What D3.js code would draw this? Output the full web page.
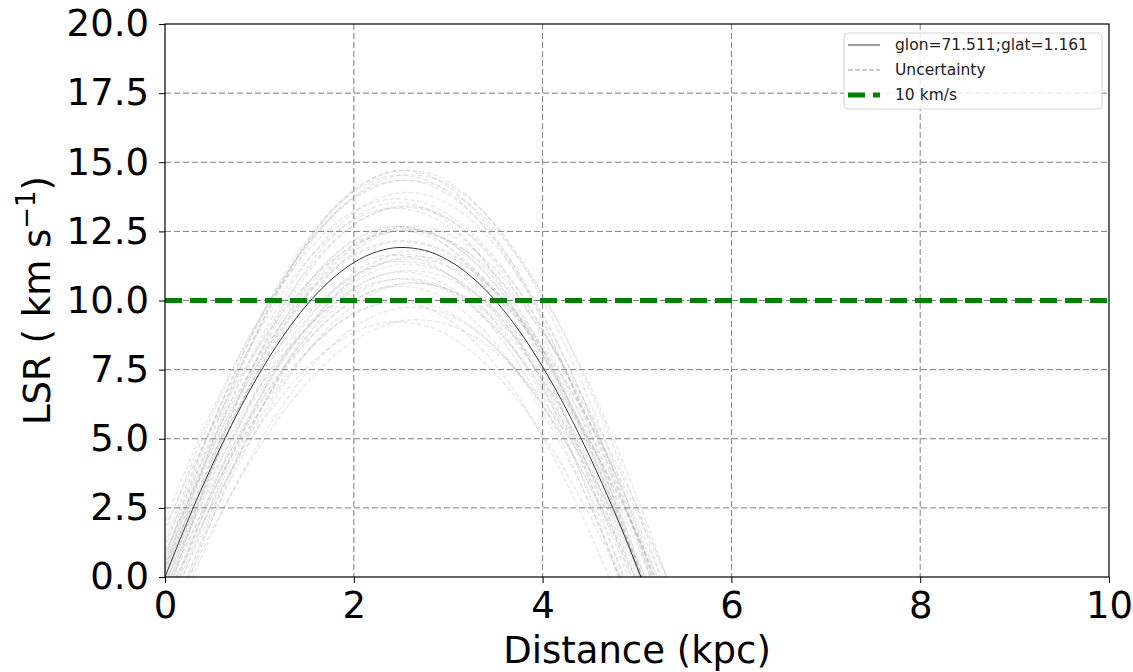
<!DOCTYPE html>
<html><head><meta charset="utf-8">
<script src="https://cdn.jsdelivr.net/npm/d3@7"></script>
<style>
html,body{margin:0;padding:0;background:#fff;}
text{font-family:"DejaVu Sans",sans-serif;}
</style></head>
<body><svg id="c" width="1133" height="672"></svg>
<script>
// ---- data ----
const xTicks = [0, 2, 4, 6, 8, 10];
const yTicks = [0, 2.5, 5, 7.5, 10, 12.5, 15, 17.5, 20];
const yTickLabels = ["0.0","2.5","5.0","7.5","10.0","12.5","15.0","17.5","20.0"];
const distance = [0,0.25,0.5,0.75,1,1.25,1.5,1.75,2,2.25,2.5,2.75,3,3.25,3.5,3.75,4,4.25,4.5,4.75,5,5.042,5.25,5.5];
const vlsr     = [0,2.106,4.045,5.800,7.359,8.707,9.831,10.722,11.371,11.770,11.919,11.814,11.456,10.849,9.998,8.912,7.602,6.078,4.354,2.445,0.366,0,-1.866,-4.237];
// uncertainty draws: velocity scale, velocity shift (km/s), distance scale
const uncVScale = [1.00,1.05,0.95,1.10,1.18,0.88,1.22,0.92,1.08,1.02,1.15,0.85,1.25,0.97,1.12,0.93,1.06,1.20,0.90,1.14,1.03,0.99,1.17,0.94,1.09,1.01,0.87,1.13,1.21,0.96,1.04,1.11,0.91,1.16,1.07,0.98,1.00,1.16,0.89,1.05];
const uncVShift = [-0.5,-1.2,0.8,-0.6,-1.5,-0.5,-1.0,1.2,0.5,-2.4,0.2,-0.9,-0.2,-1.6,1.0,0.0,-2.0,-2.5,1.8,-0.9,0.4,-1.0,0.6,-1.9,-0.3,1.3,0.4,-1.8,0.3,0.2,-0.8,-2.2,-0.2,0.7,1.6,2.0,-1.4,-0.4,0.9,0.1];
const uncDScale = [1.00,1.02,1.00,0.99,1.03,1.00,0.98,1.00,1.01,1.04,1.02,0.98,1.00,0.97,1.00,1.03,1.05,1.06,1.01,0.97,0.99,1.01,1.03,1.06,1.04,0.97,0.99,1.01,1.02,0.96,1.06,1.00,1.04,0.99,1.02,0.98,0.99,1.01,1.03,1.00];
const refVelocity = 10;
const legendLabels = ["glon=71.511;glat=1.161", "Uncertainty", "10 km/s"];
const xLabel = "Distance (kpc)";

// ---- layout ----
const m = {left:165, top:24, right:1109, bottom:577};
const svg = d3.select("#c");
const x = d3.scaleLinear().domain([0,10]).range([m.left, m.right]);
const y = d3.scaleLinear().domain([0,20]).range([m.bottom, m.top]);

svg.append("defs").append("clipPath").attr("id","clip")
  .append("rect").attr("x",m.left).attr("y",m.top)
  .attr("width",m.right-m.left).attr("height",m.bottom-m.top);

// grid
const grid = svg.append("g");
grid.selectAll(".gx").data(xTicks.filter(d=>d>0 && d<10)).enter().append("line")
  .attr("x1",d=>x(d)).attr("x2",d=>x(d)).attr("y1",m.top).attr("y2",m.bottom)
  .attr("stroke","#7f7f7f").attr("stroke-width",1).attr("stroke-dasharray","6,3");
grid.selectAll(".gy").data(yTicks.filter(d=>d>0 && d<20)).enter().append("line")
  .attr("y1",d=>y(d)).attr("y2",d=>y(d)).attr("x1",m.left).attr("x2",m.right)
  .attr("stroke","#7f7f7f").attr("stroke-width",1).attr("stroke-dasharray","6,3");

const plot = svg.append("g").attr("clip-path","url(#clip)");
const line = d3.line().curve(d3.curveMonotoneX);

// uncertainty curves
uncVScale.forEach((vs,i)=>{
  const pts = distance.map((d,j)=>[x(d*uncDScale[i]), y(vlsr[j]*vs + uncVShift[i])]);
  plot.append("path").attr("d", line(pts))
    .attr("fill","none").attr("stroke","#8a8a8a").attr("stroke-opacity",0.2)
    .attr("stroke-width",1.3).attr("stroke-dasharray","5,2");
});
// main curve
plot.append("path").attr("d", line(distance.map((d,j)=>[x(d), y(vlsr[j])])))
  .attr("fill","none").attr("stroke","#3a3a3a").attr("stroke-width",1);
// reference velocity
plot.append("line").attr("x1",x(0)).attr("x2",x(10)).attr("y1",y(refVelocity)).attr("y2",y(refVelocity))
  .attr("stroke","#008000").attr("stroke-width",5).attr("stroke-dasharray","17,8");

// axes
const xAxis = svg.append("g").attr("transform",`translate(0,${m.bottom})`)
  .call(d3.axisBottom(x).tickValues(xTicks).tickFormat(d3.format("d")).tickSizeOuter(0).tickSize(6).tickPadding(8));
const yAxis = svg.append("g").attr("transform",`translate(${m.left},0)`)
  .call(d3.axisLeft(y).tickValues(yTicks).tickFormat((d,i)=>yTickLabels[i]).tickSizeOuter(0).tickSize(6).tickPadding(10));
[xAxis,yAxis].forEach(a=>{
  a.select(".domain").remove();
  a.selectAll("line").attr("stroke","#000").attr("stroke-width",1);
  a.selectAll("text").attr("font-family","DejaVu Sans").attr("font-size",37).attr("fill","#000");
});
xAxis.selectAll("text").attr("dy","0.74em");
// frame
svg.append("rect").attr("x",m.left).attr("y",m.top).attr("width",m.right-m.left).attr("height",m.bottom-m.top)
  .attr("fill","none").attr("stroke","#000").attr("stroke-width",1.2);

// axis labels
svg.append("text").attr("x",(m.left+m.right)/2).attr("y",663).attr("text-anchor","middle")
  .attr("font-size",37).attr("fill","#000").text(xLabel);
const yl = svg.append("text").attr("transform",`translate(50,${(m.top+m.bottom)/2}) rotate(-90)`)
  .attr("text-anchor","middle").attr("font-size",37).attr("fill","#000");
yl.append("tspan").text("LSR ( km s");
yl.append("tspan").attr("font-size",26).attr("dy",-15).text("\u22121");
yl.append("tspan").attr("dy",15).text(")");

// legend
const lg = svg.append("g");
lg.append("rect").attr("x",844).attr("y",33).attr("width",258).attr("height",76).attr("rx",4)
  .attr("fill","#fff").attr("fill-opacity",0.8).attr("stroke","#d5d5d5").attr("stroke-width",1);
const rows = [45,70,95];
lg.append("line").attr("x1",848).attr("x2",880).attr("y1",rows[0]).attr("y2",rows[0])
  .attr("stroke","#3a3a3a").attr("stroke-width",1);
lg.append("line").attr("x1",848).attr("x2",880).attr("y1",rows[1]).attr("y2",rows[1])
  .attr("stroke","#999").attr("stroke-width",1.2).attr("stroke-dasharray","5,2");
lg.append("line").attr("x1",848).attr("x2",880).attr("y1",rows[2]).attr("y2",rows[2])
  .attr("stroke","#008000").attr("stroke-width",5).attr("stroke-dasharray","17,8");
legendLabels.forEach((t,i)=>{
  lg.append("text").attr("x",895).attr("y",rows[i]).attr("dy","0.35em")
    .attr("font-size",15.5).attr("fill","#222").text(t);
});
</script></body></html>
